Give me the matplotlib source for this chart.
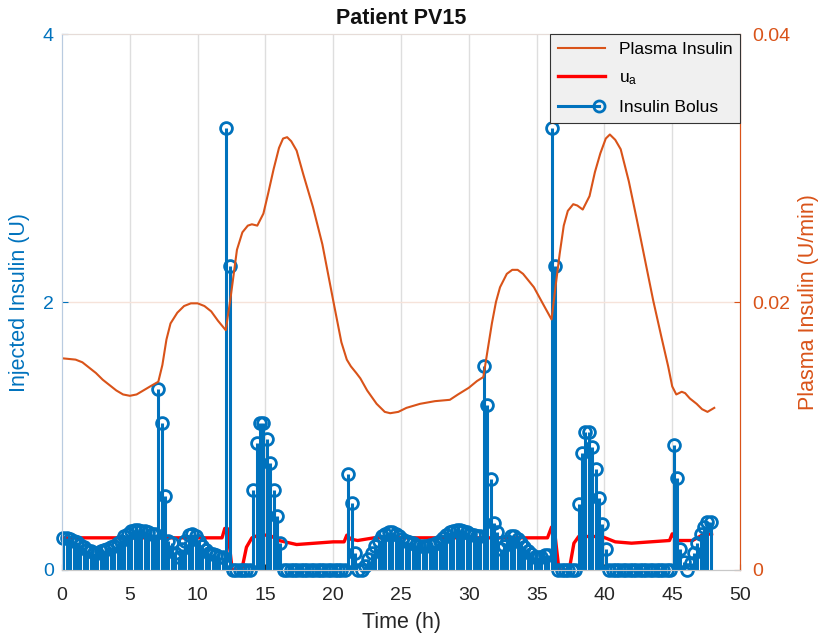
import numpy as np
import matplotlib
matplotlib.use("Agg")
import matplotlib.pyplot as plt
from matplotlib.lines import Line2D
from matplotlib.legend_handler import HandlerBase

plt.rcParams['font.family'] = ['Liberation Sans', 'DejaVu Sans']
plt.rcParams['mathtext.default'] = 'regular'

BLUE = '#0072BD'
ORANGE = '#D95319'
RED = '#FF0000'

# insulin bolus (U), one value every 15 min starting at t = 0.1 h (4 per hour)
bolus_u = [
    0.24, 0.24, 0.23, 0.22,   # 0 h
    0.21, 0.19, 0.17, 0.15,   # 1
    0.14, 0.13, 0.13, 0.14,   # 2
    0.15, 0.16, 0.17, 0.18,   # 3
    0.20, 0.22, 0.25, 0.27,   # 4
    0.29, 0.30, 0.30, 0.29,   # 5
    0.29, 0.28, 0.27, 0.27,   # 6
    1.35, 1.10, 0.55, 0.22,   # 7
    0.20, 0.13, 0.10, 0.16,   # 8
    0.22, 0.26, 0.27, 0.25,   # 9
    0.22, 0.18, 0.15, 0.13,   # 10
    0.12, 0.11, 0.10, 0.10,   # 11
    3.30, 2.27, 0.00, 0.00,   # 12
    0.00, 0.00, 0.00, 0.00,   # 13
    0.60, 0.95, 1.10, 1.10,   # 14
    0.98, 0.80, 0.60, 0.40,   # 15
    0.20, 0.00, 0.00, 0.00,   # 16
    0.00, 0.00, 0.00, 0.00,   # 17
    0.00, 0.00, 0.00, 0.00,   # 18
    0.00, 0.00, 0.00, 0.00,   # 19
    0.00, 0.00, 0.00, 0.00,   # 20
    0.72, 0.50, 0.13, 0.00,   # 21
    0.00, 0.03, 0.08, 0.13,   # 22
    0.18, 0.22, 0.25, 0.27,   # 23
    0.28, 0.28, 0.27, 0.25,   # 24
    0.23, 0.22, 0.21, 0.20,   # 25
    0.19, 0.18, 0.18, 0.18,   # 26
    0.19, 0.19, 0.20, 0.22,   # 27
    0.24, 0.26, 0.28, 0.29,   # 28
    0.30, 0.30, 0.29, 0.28,   # 29
    0.27, 0.26, 0.25, 0.25,   # 30
    1.52, 1.23, 0.68, 0.35,   # 31
    0.28, 0.16, 0.18, 0.22,   # 32
    0.25, 0.25, 0.23, 0.20,   # 33
    0.17, 0.14, 0.12, 0.10,   # 34
    0.10, 0.10, 0.11, 0.11,   # 35
    3.30, 2.27, 0.00, 0.00,   # 36
    0.00, 0.00, 0.00, 0.00,   # 37
    0.49, 0.87, 1.03, 1.03,   # 38
    0.92, 0.75, 0.54, 0.34,   # 39
    0.16, 0.00, 0.00, 0.00,   # 40
    0.00, 0.00, 0.00, 0.00,   # 41
    0.00, 0.00, 0.00, 0.00,   # 42
    0.00, 0.00, 0.00, 0.00,   # 43
    0.00, 0.00, 0.00, 0.00,   # 44
    0.93, 0.69, 0.16, 0.06,   # 45
    0.00, 0.05, 0.13, 0.20,   # 46
    0.27, 0.32, 0.36, 0.36,   # 47
]
bolus_t = 0.1 + 0.25 * np.arange(len(bolus_u))

# u_a (U)
ua_t = [0, 11.8, 12.0, 12.2, 12.55, 13.25, 13.6, 14.0, 14.5, 15.3, 16.0, 17.3,
        20.0, 20.8, 21.0, 21.3, 21.8, 23.0, 35.8, 36.1, 36.3, 36.65, 37.4, 37.75,
        38.1, 39.8, 40.8, 42.0, 44.8, 45.0, 45.3, 46.5, 47.2, 47.9]
ua = [0.24, 0.24, 0.31, 0.31, 0.0, 0.0, 0.17, 0.24, 0.26, 0.26, 0.22, 0.19,
      0.21, 0.21, 0.26, 0.23, 0.22, 0.24, 0.24, 0.32, 0.31, 0.0, 0.0, 0.20,
      0.25, 0.25, 0.21, 0.20, 0.22, 0.27, 0.22, 0.22, 0.26, 0.27]

# plasma insulin (U/min)
plasma_t = [0, 1.0, 1.5, 2.0, 2.5, 3.0, 3.5, 4.0, 4.5, 5.0, 5.5, 6.0, 6.5, 7.1,
            7.4, 7.7, 8.0, 8.5, 9.0, 9.5, 10.0, 10.5, 11.0, 11.5, 12.07, 12.4,
            12.9, 13.3, 13.7, 14.0, 14.4, 14.85, 15.2, 15.6, 16.0, 16.3, 16.6,
            16.9, 17.3, 17.8, 18.5, 19.2, 20.0, 20.6, 21.0, 21.3, 21.7, 22.0,
            22.5, 23.2, 23.8, 24.2, 24.8, 25.4, 26.4, 27.5, 28.6, 29.2, 30.0,
            30.6, 31.07, 31.4, 31.7, 32.0, 32.3, 32.8, 33.2, 33.6, 34.0, 34.8,
            35.5, 36.1, 36.4, 36.7, 37.0, 37.3, 37.7, 38.0, 38.4, 38.9, 39.3,
            39.7, 40.1, 40.4, 40.8, 41.2, 41.8, 42.4, 43.0, 43.6, 44.2, 44.7,
            45.0, 45.3, 45.7, 45.95, 46.3, 46.8, 47.2, 47.6, 48.1]
plasma = [0.0158, 0.0157, 0.0155, 0.0151, 0.0147, 0.0142, 0.0138, 0.0134, 0.0131,
          0.0130, 0.0131, 0.0134, 0.0137, 0.01405, 0.0153, 0.0172, 0.0184, 0.0192,
          0.0197, 0.0199, 0.0199, 0.0197, 0.0193, 0.0186, 0.0179, 0.0201, 0.0239,
          0.0252, 0.0257, 0.0258, 0.0257, 0.0266, 0.0281, 0.0299, 0.0315, 0.0322,
          0.0323, 0.0320, 0.0313, 0.0295, 0.0271, 0.0243, 0.0201, 0.0170, 0.0157,
          0.0152, 0.0147, 0.0143, 0.0134, 0.0124, 0.0118, 0.0117, 0.0118, 0.0121,
          0.0124, 0.0126, 0.0127, 0.0131, 0.0136, 0.0141, 0.0144, 0.0165, 0.0184,
          0.0200, 0.0211, 0.0221, 0.0224, 0.0224, 0.0221, 0.0211, 0.0198, 0.0187,
          0.0212, 0.0236, 0.0257, 0.0268, 0.0273, 0.0272, 0.0269, 0.0279, 0.0297,
          0.0311, 0.0322, 0.0325, 0.0321, 0.0314, 0.0290, 0.0261, 0.0231, 0.0201,
          0.0174, 0.0152, 0.0137, 0.0131, 0.0133, 0.0132, 0.0128, 0.0124, 0.0120,
          0.0118, 0.0121]


class StemHandler(HandlerBase):
    # horizontal line with the circle near its right end, like matlab's stem legend
    def create_artists(self, legend, orig, xdescent, ydescent, width, height, fontsize, trans):
        y = height / 2 - ydescent
        x1 = width - xdescent - 4
        ln = Line2D([-xdescent, x1], [y, y], color=BLUE, lw=2.2)
        mk = Line2D([x1], [y], marker='o', color=BLUE, mfc='none', ms=8, mew=2)
        ln.set_transform(trans)
        mk.set_transform(trans)
        return [ln, mk]


fig = plt.figure(figsize=(8.25, 6.37), dpi=100)
ax = fig.add_axes([0.0752, 0.1052, 0.8218, 0.8414])
ax2 = ax.twinx()

ax.set_xlim(0, 50)
ax.set_ylim(0, 4)
ax2.set_ylim(0, 0.04)

# grid
for xv in range(5, 50, 5):
    ax.axvline(xv, color='#dedede', lw=1, zorder=0)
ax.axhline(2, color='#f6e3da', lw=1, zorder=0)

ua_line, = ax.plot(ua_t, ua, color=RED, lw=2.4, zorder=2)
st = ax.stem(bolus_t, bolus_u, linefmt='-', markerfmt='o', basefmt=' ')
st.stemlines.set_color(BLUE)
st.stemlines.set_linewidth(2.2)
st.stemlines.set_zorder(3)
st.markerline.set_color(BLUE)
st.markerline.set_markerfacecolor('none')
st.markerline.set_markersize(8.5)
st.markerline.set_markeredgewidth(2.0)
st.markerline.set_clip_on(False)
st.markerline.set_zorder(4)

pl_line, = ax2.plot(plasma_t, plasma, color=ORANGE, lw=1.5)

ax.set_xticks(range(0, 51, 5))
ax.set_yticks([0, 2, 4])
ax2.set_yticks([0, 0.02, 0.04])
ax2.set_yticklabels(['0', '0.02', '0.04'])

ax.tick_params(axis='x', labelsize=14, colors='#262626', direction='in', length=4, pad=12)
ax.tick_params(axis='y', labelsize=14, colors=BLUE, direction='in', length=4, pad=6)
ax2.tick_params(axis='y', labelsize=14, colors=ORANGE, direction='in', length=4, pad=9)

for a in (ax, ax2):
    a.spines['top'].set_color('#e6dcd8')
    a.spines['bottom'].set_color('#c8c8c8')
    a.spines['left'].set_color('#b9cbe0')
    a.spines['right'].set_color(ORANGE)

ax.set_xlabel('Time (h)', fontsize=15.5, color='#262626', labelpad=6)
ax.set_ylabel('Injected Insulin (U)', fontsize=15.5, color=BLUE, labelpad=9)
ax2.set_ylabel('Plasma Insulin (U/min)', fontsize=15.5, color=ORANGE, labelpad=5)
ax.set_title('Patient PV15', fontsize=15.5, fontweight='bold', color='#111111', pad=7)

leg = ax2.legend([pl_line, ua_line, st], ['Plasma Insulin', 'u$_a$', 'Insulin Bolus'],
                 handler_map={type(st): StemHandler()},
                 loc='upper right', fontsize=12.5, fancybox=False, framealpha=1,
                 facecolor='#f0f0f0', edgecolor='#333333', borderaxespad=0,
                 handlelength=2.7, labelspacing=0.75, borderpad=0.45, handletextpad=0.8)
leg.get_frame().set_linewidth(0.8)

fig.savefig('out.png', dpi=100)
